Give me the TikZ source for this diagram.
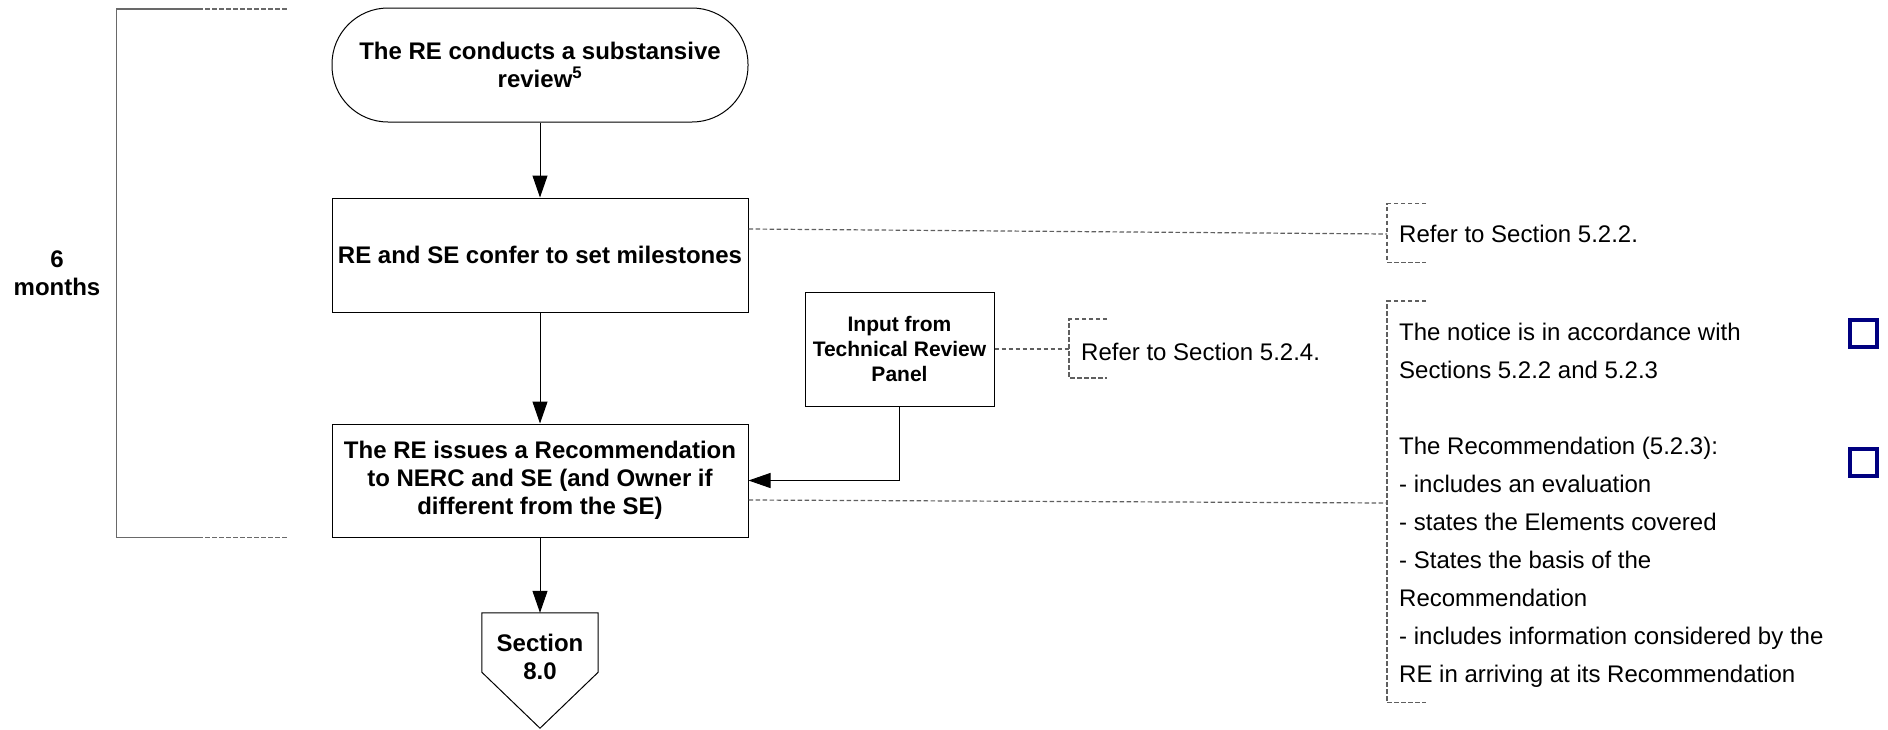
\documentclass[tikz,border=0pt]{standalone}
\usepackage{fontspec}
\setmainfont{Liberation Sans}
\usetikzlibrary{arrows.meta,calc}
\definecolor{navyblue}{RGB}{0,0,128}
\definecolor{linegray}{RGB}{105,105,105}
\definecolor{dashgray}{RGB}{95,95,95}
\begin{document}
\begin{tikzpicture}[x=1pt,y=-1pt,
  flowbox/.style={draw=black, line width=1pt, inner sep=0pt, align=center,
    font=\fontsize{24}{28}\selectfont\bfseries},
  flowtext/.style={inner sep=0pt, align=center, font=\fontsize{24}{28}\selectfont\bfseries},
  boxline/.style={draw=black, line width=1pt},
  arr/.style={draw=black, line width=1pt, -{Triangle[length=22pt,width=15pt]}},
  dashln/.style={draw=dashgray, line width=1.2pt, dash pattern=on 4.5pt off 2.5pt},
  bracketln/.style={draw=linegray, line width=1.5pt},
  note/.style={inner sep=0pt, align=left, font=\fontsize{24}{38}\selectfont},
  bluesq/.style={draw=navyblue, line width=4pt, minimum size=27pt, inner sep=0pt}]
\useasboundingbox (0,0) rectangle (1888,729);

% left time bracket
\coordinate (bt) at (198,9);
\coordinate (bb) at (198,537.7);
\draw[bracketln] (bt) -- (116.7,9) -- (116.7,537.7) -- (bb);
\draw[bracketln, dash pattern=on 4.5pt off 2.5pt] (bt) -- (287,9);
\draw[bracketln, dash pattern=on 4.5pt off 2.5pt] (bb) -- (287,537.7);
\node[flowtext] (six) at (57,273.5) {6\\months};

% flow nodes
\node[flowbox, rounded corners=56pt, minimum width=416pt, minimum height=114pt] (term) at (540,65)
  {The RE conducts a substansive\\review\textsuperscript{5}};
\node[flowbox, minimum width=416pt, minimum height=114pt] (confer) at (540,255)
  {RE and SE confer to set milestones};
\node[flowbox, minimum width=416pt, minimum height=113pt] (issue) at (540,480.5)
  {The RE issues a Recommendation\\to NERC and SE (and Owner if\\different from the SE)};
\node[flowbox, font=\fontsize{21}{25}\selectfont\bfseries, minimum width=189pt, minimum height=114pt] (input) at (899.5,349)
  {Input from\\Technical Review\\Panel};

% off-page connector
\node[inner sep=0pt, minimum width=116pt, minimum height=115pt] (sec) at (540,670.5) {};
\draw[boxline] (sec.north west) -- (sec.north east) -- ([yshift=56pt]sec.south east)
  -- (sec.south) -- ([yshift=56pt]sec.south west) -- cycle;
\node[flowtext] (seclabel) at (540,656.5) {Section\\8.0};

% arrows
\draw[arr] (term) -- (confer);
\draw[arr] (confer) -- (issue);
\draw[arr] (issue) -- (sec);
\draw[arr] (input.south) |- (issue.east);

% annotation 1
\coordinate (a1) at (1387,234);
\draw[dashln] ([yshift=26pt]confer.east) -- (a1);
\draw[dashln] (1426,203.7) -- (1387,203.7) -- (1387,262.6) -- (1426,262.6);
\node[note, anchor=west] (n1) at (1399,234) {Refer to Section 5.2.2.};

% annotation 2
\coordinate (a2) at (1069,349);
\draw[dashln] (input.east) -- (a2);
\draw[dashln] (1107,319) -- (1069,319) -- (1069,378) -- (1107,378);
\node[note, anchor=west] (n2) at (1081,352) {Refer to Section 5.2.4.};

% annotation 3
\coordinate (a3) at (1387,503);
\draw[dashln] ([yshift=-19.5pt]issue.east) -- (a3);
\draw[dashln] (1426,301) -- (1387,301) -- (1387,702.6) -- (1426,702.6);
\node[note, anchor=north west] (n3) at (1399,322.5) {The notice is in accordance with\\
Sections 5.2.2 and 5.2.3\\
~\\
The Recommendation (5.2.3):\\
- includes an evaluation\\
- states the Elements covered\\
- States the basis of the\\
Recommendation\\
- includes information considered by the\\
RE in arriving at its Recommendation};

% check boxes
\node[bluesq] (sq1) at (1863.5,333.5) {};
\node[bluesq] (sq2) at (1863.5,462.5) {};
\end{tikzpicture}
\end{document}
